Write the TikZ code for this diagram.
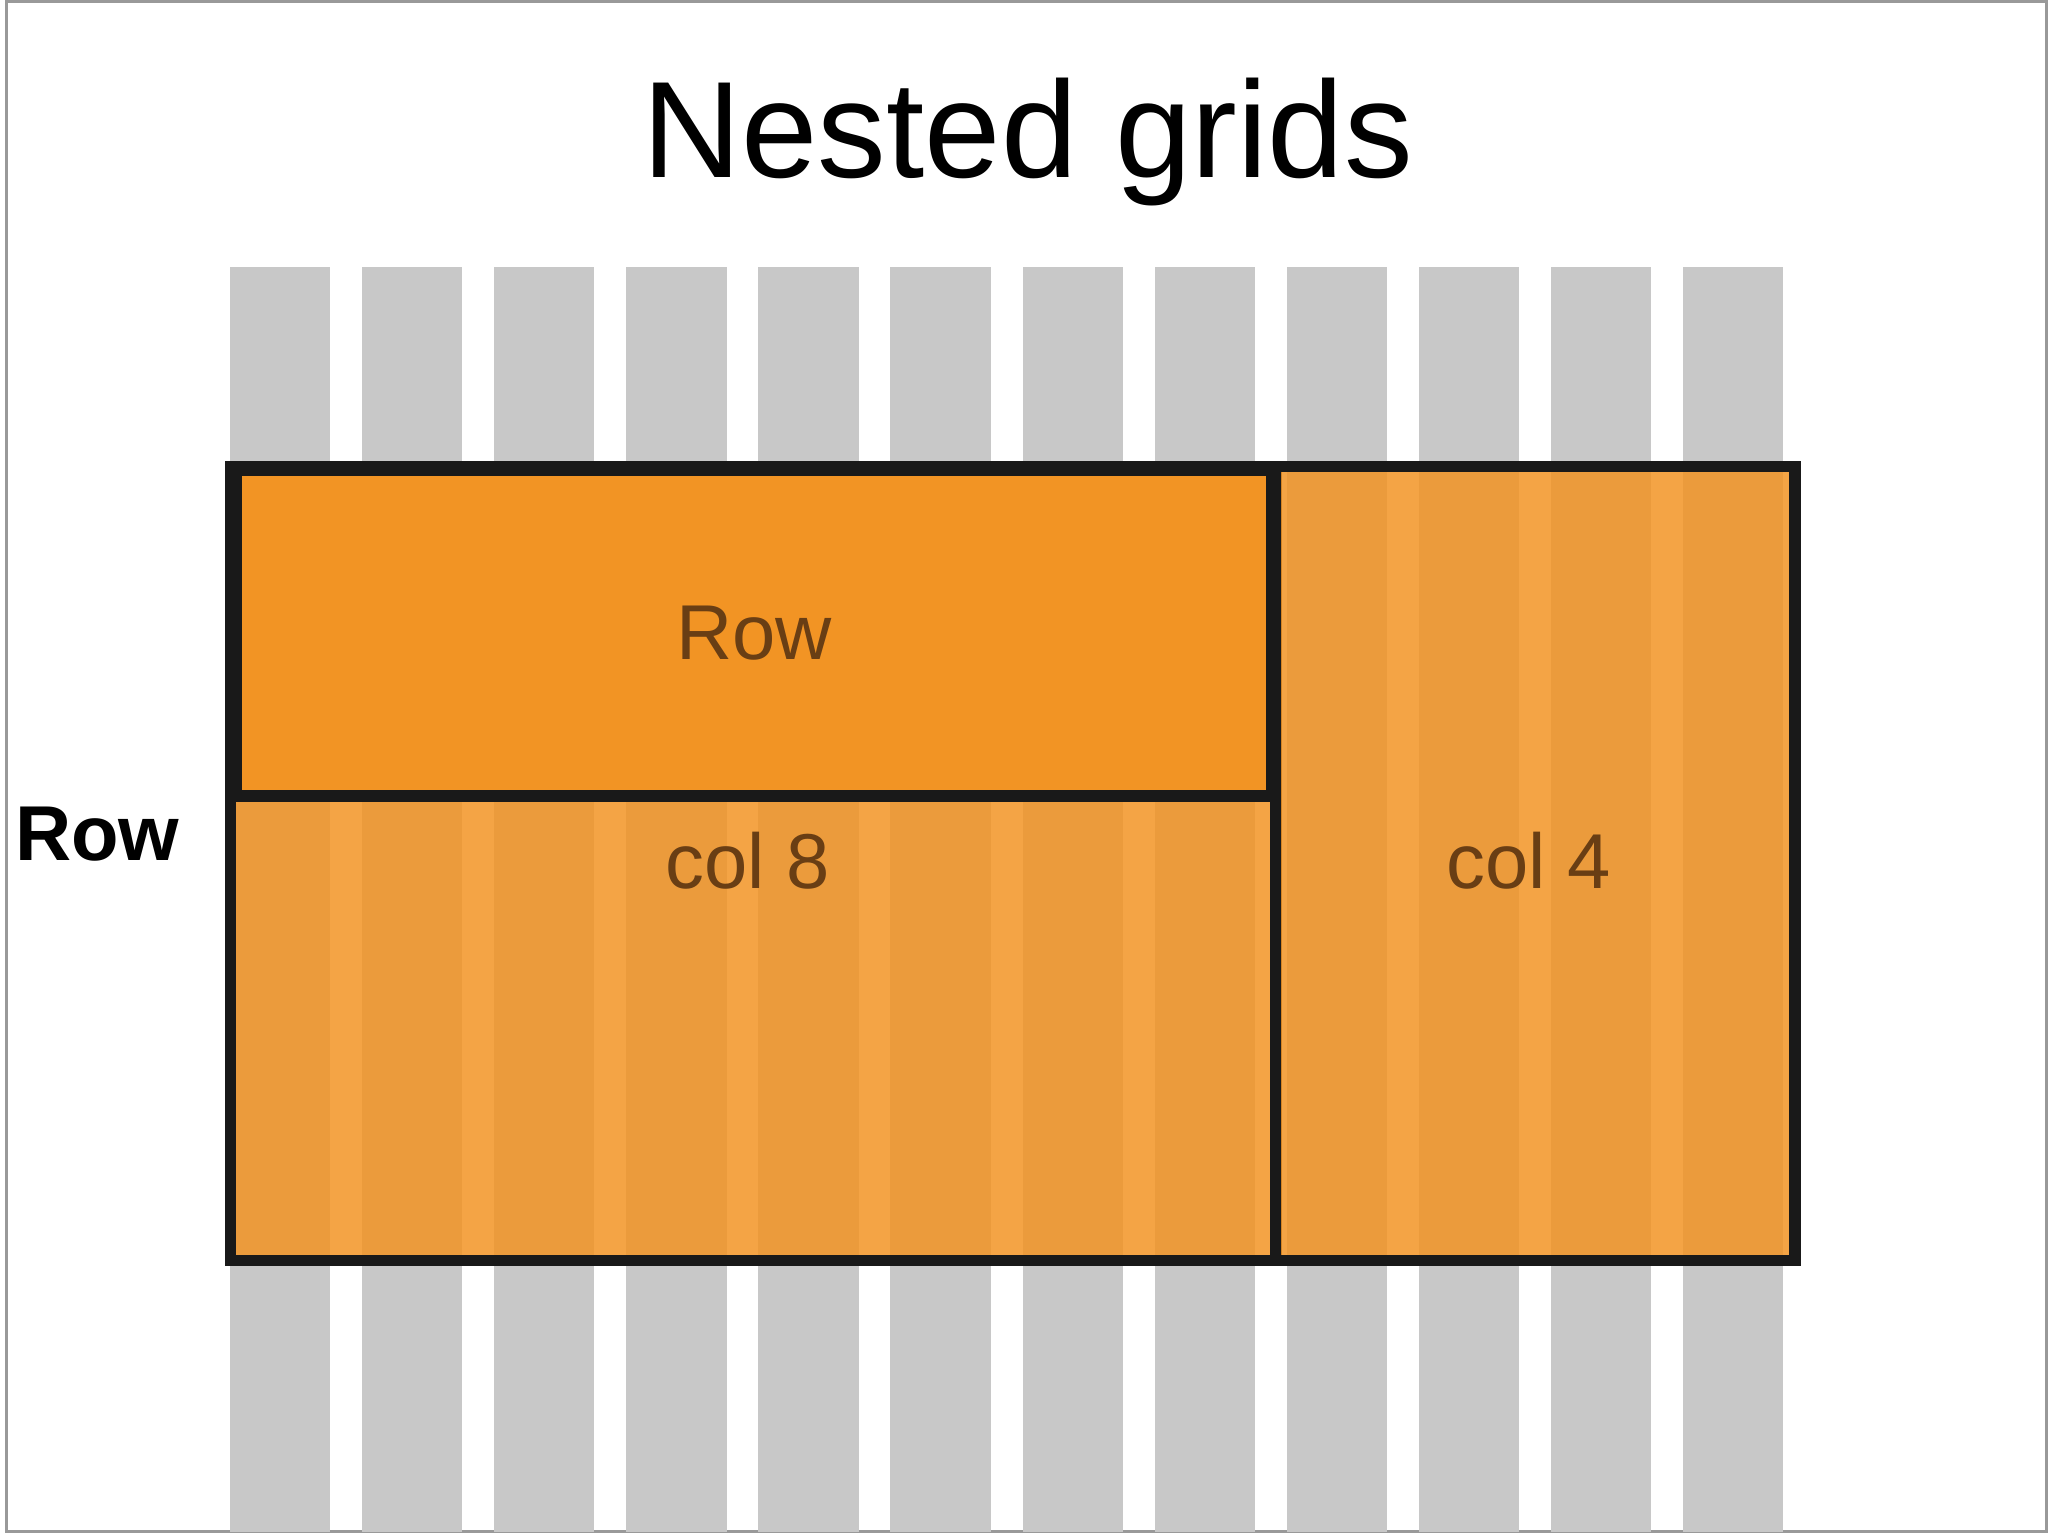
\documentclass[tikz,border=0pt]{standalone}
\usepackage{fontspec}
\setmainfont{Liberation Sans}
\usetikzlibrary{positioning}
\definecolor{bargray}{RGB}{200,200,200}
\definecolor{gridorange}{RGB}{242,148,36}
\definecolor{labelbrown}{RGB}{105,62,20}
\begin{document}
\begin{tikzpicture}[x=0.01cm,y=-0.01cm,
    bar/.style={fill=bargray, draw=none},
    cell/.style={draw=black!90, line width=2.5pt, fill=gridorange, fill opacity=0.85, text opacity=1},
    label/.style={text=labelbrown, font=\fontsize{17}{20}\selectfont}
]
% frame
\draw[black!40, line width=0.6pt] (0,0) rectangle (1568,1176);

% title
\node (title) at (785,108) {\fontsize{30}{36}\selectfont Nested grids};

% background columns
\foreach \i in {0,...,11}
    \fill[bar] ({172+101.5*\i},204) rectangle ({249+101.5*\i},1176);

% outer cells
\node[cell, minimum width=803\pgflinewidth, anchor=north west, inner sep=0pt,
      minimum width=8.03cm, minimum height=6.1cm] (col8) at (168,353) {};
\node[cell, anchor=north west, inner sep=0pt,
      minimum width=3.99cm, minimum height=6.1cm] (col4) at (971,353) {};
\node[cell, fill opacity=1, anchor=north west, inner sep=0pt,
      minimum width=7.96cm, minimum height=2.5cm] (row) at (172,356) {};

% labels
\node[label] at (row.center) {Row};
\node[label] (col8lbl) at (570,660) {col 8};
\node[label] (col4lbl) at (1170,660) {col 4};
\node[font=\fontsize{17}{20}\selectfont\bfseries] (rowlbl) at (70,640) {Row};
\end{tikzpicture}
\end{document}
